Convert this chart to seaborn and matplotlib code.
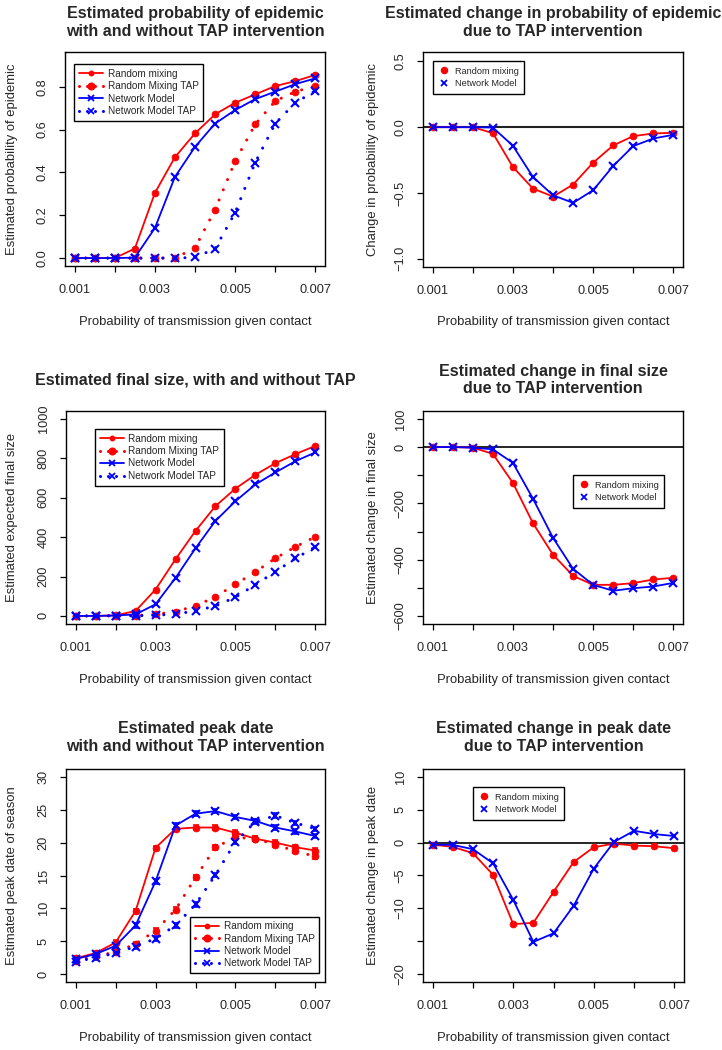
import matplotlib
matplotlib.use("Agg")
import matplotlib.pyplot as plt
from matplotlib.lines import Line2D
import seaborn as sns

# ---------------- data ----------------
p_trans = [0.001, 0.0015, 0.002, 0.0025, 0.003, 0.0035, 0.004,
           0.0045, 0.005, 0.0055, 0.006, 0.0065, 0.007]
x_ticks = [0.001, 0.002, 0.003, 0.004, 0.005, 0.006, 0.007]
x_ticklabels = ["0.001", "", "0.003", "", "0.005", "", "0.007"]

# probability of epidemic
epi_rm = [0, 0, 0, 0.044, 0.304, 0.471, 0.582, 0.671, 0.725, 0.764, 0.803, 0.826, 0.855]
epi_nm = [0, 0, 0, 0.002, 0.140, 0.379, 0.519, 0.628, 0.691, 0.742, 0.777, 0.812, 0.839]
epi_rm_tap = [0, 0, 0, 0, 0, 0, 0.047, 0.226, 0.452, 0.624, 0.733, 0.777, 0.803]
epi_nm_tap = [0, 0, 0, 0, 0, 0, 0.003, 0.044, 0.212, 0.446, 0.628, 0.725, 0.781]
# change in probability of epidemic
depi_rm = [0, 0, 0, -0.045, -0.303, -0.467, -0.528, -0.437, -0.270, -0.139, -0.068, -0.048, -0.043]
depi_nm = [0, 0, 0, -0.003, -0.141, -0.379, -0.518, -0.576, -0.480, -0.295, -0.144, -0.086, -0.058]

# final size
fs_rm = [0, 0, 3, 25, 134, 288, 432, 558, 647, 717, 776, 822, 864]
fs_nm = [0, 0, 2, 8, 59, 193, 344, 483, 583, 668, 729, 786, 831]
fs_rm_tap = [0, 0, 1, 2, 8, 22, 51, 97, 161, 224, 293, 351, 402]
fs_nm_tap = [0, 0, 1, 1, 3, 10, 25, 51, 95, 159, 225, 292, 351]
# change in final size
dfs_rm = [0, 0, -2, -24, -127, -270, -382, -457, -489, -489, -483, -470, -464]
dfs_nm = [0, 0, -2, -8, -56, -183, -322, -432, -489, -510, -501, -495, -482]

# peak date
pk_rm = [2.4, 3.2, 4.8, 9.6, 19.2, 22.1, 22.3, 22.3, 21.5, 20.6, 20.0, 19.3, 18.8]
pk_nm = [2.3, 3.05, 4.3, 7.4, 14.1, 22.6, 24.4, 24.8, 23.9, 23.3, 22.3, 21.7, 21.0]
pk_rm_tap = [2.0, 2.8, 3.3, 4.6, 6.6, 9.8, 14.7, 19.3, 20.8, 20.6, 19.7, 18.7, 17.9]
pk_nm_tap = [1.9, 2.5, 3.2, 4.2, 5.4, 7.4, 10.6, 15.1, 20.1, 23.2, 24.1, 23.0, 22.1]
pk_err = [0.35] * 13
# change in peak date
dpk_rm = [-0.3, -0.65, -1.6, -4.9, -12.4, -12.2, -7.5, -2.95, -0.7, -0.15, -0.45, -0.55, -0.85]
dpk_nm = [-0.3, -0.35, -1.0, -3.15, -8.7, -15.1, -13.8, -9.6, -3.95, 0.1, 1.8, 1.3, 1.0]

# ---------------- style ----------------
sns.set_style("white")
plt.rcParams["font.family"] = ["Liberation Sans", "DejaVu Sans"]
plt.rcParams["axes.unicode_minus"] = True

RED = "#FF0000"
BLUE = "#0000FF"
W, H = 722, 1050
fig = plt.figure(figsize=(W / 100, H / 100), dpi=100)

TICK_FS = 9.2
LAB_FS = 9.4
TITLE_FS = 11.5


def make_ax(l, t, r, b):
    ax = fig.add_axes([l / W, 1 - b / H, (r - l) / W, (b - t) / H])
    ax._px = (l, t, r, b)
    return ax


def style_ax(ax, ylim, yticks, yticklabels, ylabel, title, title_above, ylab_off):
    l, t, r, b = ax._px
    wpx, hpx = r - l, b - t
    ax.set_xlim(0.00076, 0.00724)
    ax.set_ylim(*ylim)
    ax.set_xticks(x_ticks)
    ax.set_xticklabels(x_ticklabels)
    ax.set_yticks(yticks)
    ax.set_yticklabels(yticklabels)
    for s in ax.spines.values():
        s.set_visible(True)
        s.set_color("black")
        s.set_linewidth(1.0)
    ax.tick_params(axis="both", which="major", direction="out", length=4.3,
                   width=0.9, color="black", labelsize=TICK_FS,
                   bottom=True, left=True, top=False, right=False)
    ax.tick_params(axis="x", pad=8.5)
    ax.tick_params(axis="y", pad=7.5, labelrotation=90)
    for lab in ax.get_yticklabels():
        lab.set_verticalalignment("center")
    ax.set_xlabel("Probability of transmission given contact", fontsize=LAB_FS)
    ax.xaxis.set_label_coords(0.5, -55.5 / hpx)
    ax.xaxis.label.set_verticalalignment("center")
    ax.set_ylabel(ylabel, fontsize=LAB_FS)
    ax.yaxis.set_label_coords(-ylab_off / wpx, 0.5)
    ax.yaxis.label.set_verticalalignment("center")
    ax.text(0.5, 1 + title_above / hpx, title, transform=ax.transAxes,
            ha="center", va="center", fontsize=TITLE_FS, fontweight="bold",
            linespacing=1.2)
    ax.grid(False)


DOT = (0, (0.01, 3.6))


def series(ax, y, color, marker, dotted=False):
    if marker == "o":
        mkw = dict(markersize=5.0, markeredgewidth=0.5)
    else:
        mkw = dict(markersize=5.2, markeredgewidth=1.5)
    sns.lineplot(x=p_trans, y=y, ax=ax, color=color, marker=marker,
                 linestyle=DOT if dotted else "-",
                 linewidth=2.2 if dotted else 1.3,
                 dash_capstyle="round", markeredgecolor=color,
                 markerfacecolor=color, errorbar=None, legend=False,
                 sort=False, **mkw)


def legend4(ax, pos, loc, fs=7.2):
    handles = [
        Line2D([], [], color=RED, marker="o", ms=3.2, mec=RED, lw=1.3),
        Line2D([], [], color=RED, marker="o", ms=4.8, mec=RED, lw=2.2,
               linestyle=(0, (0.01, 2.6)), dash_capstyle="round"),
        Line2D([], [], color=BLUE, marker="x", ms=4.5, mew=1.3, lw=1.3),
        Line2D([], [], color=BLUE, marker="x", ms=4.5, mew=1.3, lw=2.2,
               linestyle=(0, (0.01, 2.6)), dash_capstyle="round"),
    ]
    labels = ["Random mixing", "Random Mixing TAP", "Network Model",
              "Network Model TAP"]
    leg = ax.legend(handles, labels, loc=loc, bbox_to_anchor=pos,
                    fontsize=fs, frameon=True, fancybox=False, shadow=False,
                    edgecolor="black", framealpha=1, borderaxespad=0,
                    borderpad=0.45, labelspacing=0.25, handlelength=2.4,
                    handletextpad=0.5)
    leg.get_frame().set_linewidth(1.0)


def legend2(ax, pos, loc, fs=6.6):
    handles = [
        Line2D([], [], color=RED, marker="o", ms=4.4, mec=RED, linestyle="None"),
        Line2D([], [], color=BLUE, marker="x", ms=4.4, mew=1.3, linestyle="None"),
    ]
    labels = ["Random mixing", "Network Model"]
    leg = ax.legend(handles, labels, loc=loc, bbox_to_anchor=pos,
                    fontsize=fs, frameon=True, fancybox=False, shadow=False,
                    edgecolor="black", framealpha=1, borderaxespad=0,
                    borderpad=0.6, labelspacing=0.4, handlelength=1.2,
                    handletextpad=0.6)
    leg.get_frame().set_linewidth(1.0)


def anchor(ax, px, py):
    l, t, r, b = ax._px
    return ((px - l) / (r - l), 1 - (py - t) / (b - t))


# ---------- panel 1 ----------
ax1 = make_ax(65, 52, 325, 266)
series(ax1, epi_rm, RED, "o")
series(ax1, epi_rm_tap, RED, "o", dotted=True)
series(ax1, epi_nm, BLUE, "x")
series(ax1, epi_nm_tap, BLUE, "x", dotted=True)
style_ax(ax1, (-0.037, 0.962), [0, 0.2, 0.4, 0.6, 0.8],
         ["0.0", "0.2", "0.4", "0.6", "0.8"],
         "Estimated probability of epidemic",
         "Estimated probability of epidemic\nwith and without TAP intervention",
         29.5, 53)
legend4(ax1, anchor(ax1, 74, 64), "upper left")

# ---------- panel 2 ----------
ax2 = make_ax(423, 52, 683, 267)
ax2.axhline(0, color="#222222", lw=1.5, zorder=1)
series(ax2, depi_rm, RED, "o")
series(ax2, depi_nm, BLUE, "x")
style_ax(ax2, (-1.064, 0.572), [-1.0, -0.5, 0.0, 0.5],
         ["−1.0", "−0.5", "0.0", "0.5"],
         "Change in probability of epidemic",
         "Estimated change in probability of epidemic\ndue to TAP intervention",
         29.5, 50)
legend2(ax2, anchor(ax2, 433, 61), "upper left")

# ---------- panel 3 ----------
ax3 = make_ax(66, 411, 325, 624)
series(ax3, fs_rm, RED, "o")
series(ax3, fs_rm_tap, RED, "o", dotted=True)
series(ax3, fs_nm, BLUE, "x")
series(ax3, fs_nm_tap, BLUE, "x", dotted=True)
style_ax(ax3, (-41, 1041), [0, 200, 400, 600, 800, 1000],
         ["0", "200", "400", "600", "800", "1000"],
         "Estimated expected final size",
         "Estimated final size, with and without TAP", 31, 54)
legend4(ax3, anchor(ax3, 95, 429), "upper left")

# ---------- panel 4 ----------
ax4 = make_ax(423, 411, 683, 624)
ax4.axhline(0, color="black", lw=1.2, zorder=1)
series(ax4, dfs_rm, RED, "o")
series(ax4, dfs_nm, BLUE, "x")
style_ax(ax4, (-628, 128), [-600, -500, -400, -300, -200, -100, 0, 100],
         ["−600", "", "−400", "", "−200", "", "0", "100"],
         "Estimated change in final size",
         "Estimated change in final size\ndue to TAP intervention", 31, 50)
legend2(ax4, anchor(ax4, 573, 475), "upper left")

# ---------- panel 5 ----------
ax5 = make_ax(66, 769, 325, 982)
for y, c in [(pk_rm, RED), (pk_rm_tap, RED), (pk_nm, BLUE), (pk_nm_tap, BLUE)]:
    ax5.errorbar(p_trans, y, yerr=pk_err, fmt="none", ecolor=c,
                 elinewidth=1.2, capsize=2.2, capthick=1.2, zorder=2)
series(ax5, pk_rm, RED, "o")
series(ax5, pk_rm_tap, RED, "o", dotted=True)
series(ax5, pk_nm, BLUE, "x")
series(ax5, pk_nm_tap, BLUE, "x", dotted=True)
style_ax(ax5, (-1.2, 31.2), [0, 5, 10, 15, 20, 25, 30],
         ["0", "5", "10", "15", "20", "25", "30"],
         "Estimated peak date of season",
         "Estimated peak date\nwith and without TAP intervention", 31.5, 54)
legend4(ax5, anchor(ax5, 319, 973), "lower right")

# ---------- panel 6 ----------
ax6 = make_ax(423, 769, 684, 982)
ax6.axhline(0, color="black", lw=1.2, zorder=1)
series(ax6, dpk_rm, RED, "o")
series(ax6, dpk_nm, BLUE, "x")
style_ax(ax6, (-21.2, 11.2), [-20, -15, -10, -5, 0, 5, 10],
         ["−20", "", "−10", "−5", "0", "5", "10"],
         "Estimated change in peak date",
         "Estimated change in peak date\ndue to TAP intervention", 31.5, 50)
legend2(ax6, anchor(ax6, 473, 787), "upper left")

fig.savefig("out.png", dpi=100, facecolor="white")
